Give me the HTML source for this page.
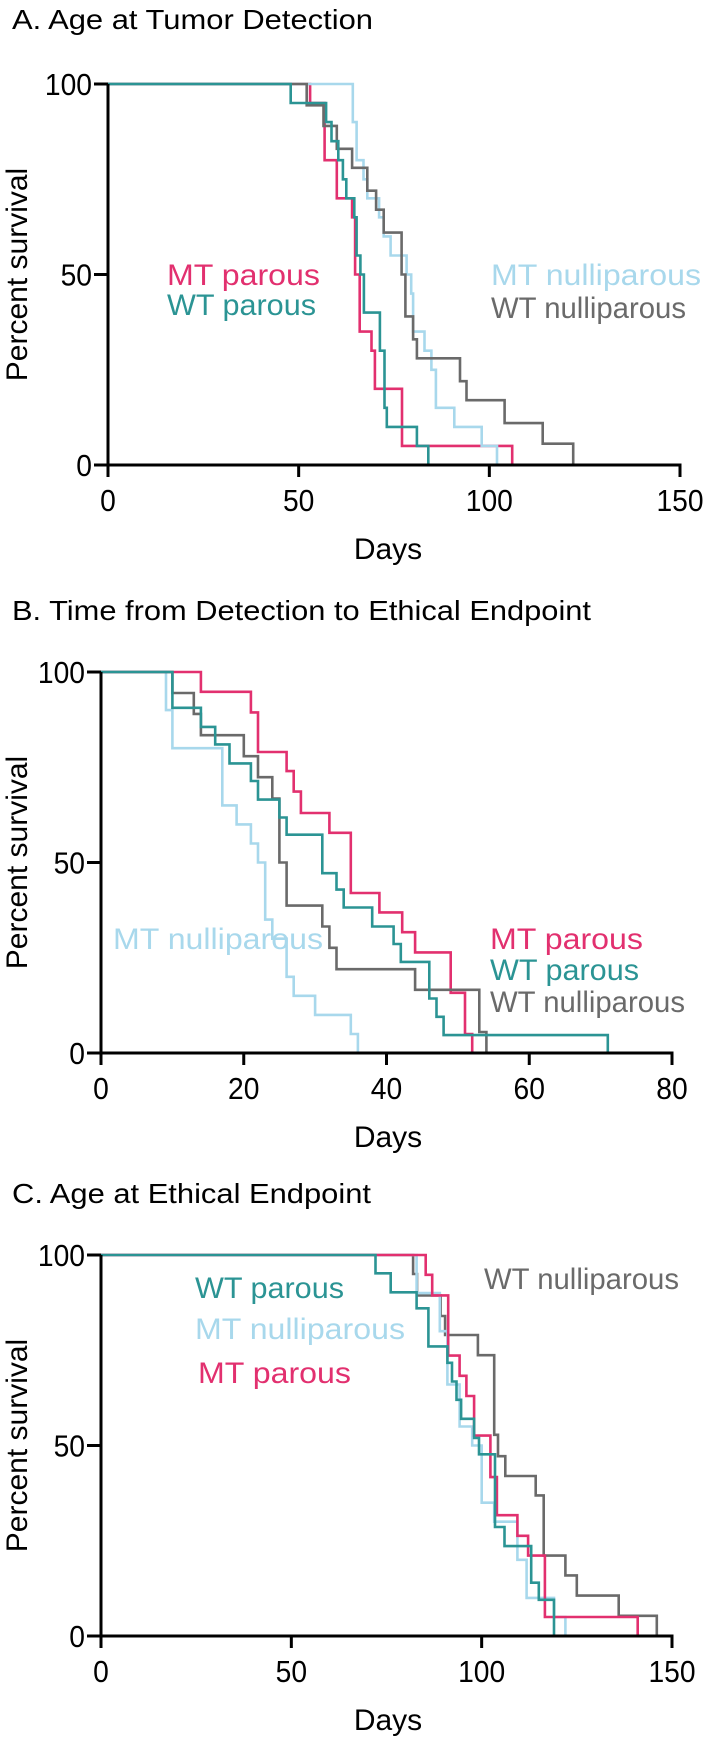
<!DOCTYPE html>
<html><head><meta charset="utf-8"><style>
html,body{margin:0;padding:0;background:#fff;}
svg{display:block;font-family:"Liberation Sans",Arial,sans-serif;}
</style></head><body>
<svg id="root" width="712" height="1740" viewBox="0 0 712 1740"></svg>
<script>
// ---- Chart A data: Age at Tumor Detection ----
const aTicksX = [0, 50, 100, 150];
const aTicksY = [0, 50, 100];
const aMTparT = [53, 56.8, 60, 64, 64.8, 66, 69.1, 70, 77.1, 106];
const aMTparS = [95, 80, 70, 65, 50, 35, 30, 20, 5, 0];
const aWTparT = [47.9, 57.2, 58.6, 60.4, 61.6, 62.5, 64.6, 65.2, 66.2, 67.1, 71.3, 72.5, 73.1, 81, 84];
const aWTparS = [95, 90, 85, 80, 75, 70, 65, 55, 50, 40, 30, 15, 10, 5, 0];
const aMTnulT = [64.2, 65.2, 67, 68, 71.1, 72.3, 74.1, 78.3, 79.5, 80, 83, 84.8, 86, 90.8, 98, 102];
const aMTnulS = [90, 80, 75, 70, 65, 60, 55, 50, 45, 35, 30, 25, 15, 10, 5, 0];
const aWTnulT = [52.1, 56.5, 60, 64, 68, 70.3, 72.3, 77, 78, 80, 81, 92.3, 94, 104, 114, 122];
const aWTnulS = [94.4, 89, 83, 78, 72, 67, 61, 50, 39, 33, 28, 22, 17, 11, 5.6, 0];

// ---- Chart B data: Time from Detection to Ethical Endpoint ----
const bTicksX = [0, 20, 40, 60, 80];
const bTicksY = [0, 50, 100];
const bMTnulT = [9.1, 10, 17, 19, 21, 22, 23, 24, 26, 27, 30, 35, 36];
const bMTnulS = [90, 80, 65, 60, 55, 50, 35, 30, 20, 15, 10, 5, 0];
const bMTparT = [14, 21, 22, 26, 27, 28, 32, 35, 39, 42.2, 44, 49, 51, 52];
const bMTparS = [94.8, 89.4, 79, 74, 68.6, 63, 57.8, 42, 36.9, 31.7, 26.4, 15.8, 5, 0];
const bWTparT = [10, 14, 16, 18, 21, 22, 25, 26, 31, 33, 34, 38, 41, 42, 46, 47, 48, 71];
const bWTparS = [90.6, 85.6, 81, 76, 71.4, 66.5, 61.8, 57.3, 47.2, 42.9, 38.2, 33.2, 28.6, 23.9, 14.3, 9.5, 4.7, 0];
const bWTnulT = [10, 13, 14, 20, 22, 24, 25, 26, 31, 32, 33, 44, 53, 54];
const bWTnulS = [94.5, 89, 83.4, 77.9, 72.4, 66.8, 50, 38.7, 33.2, 27.6, 22, 16.6, 5.5, 0];

// ---- Chart C data: Age at Ethical Endpoint ----
const cTicksX = [0, 50, 100, 150];
const cTicksY = [0, 50, 100];
const cWTparT = [72.1, 76.1, 82.9, 86, 91, 92.2, 93.4, 94.6, 98, 99.3, 103.5, 106, 113, 115, 119];
const cWTparS = [95.2, 90.2, 86, 76, 71.7, 66.8, 62, 57, 52, 47.7, 28.6, 23.6, 14, 9.5, 0];
const cMTnulT = [82.9, 89, 91, 94.2, 97.5, 100, 103.3, 109.4, 111.8, 119, 122];
const cMTnulS = [90, 80, 66, 55, 50, 35, 30, 20, 10, 5, 0];
const cMTparT = [85.3, 87, 91.2, 94.2, 96, 98, 102.3, 104, 109.4, 112.2, 116.6, 141];
const cMTparS = [94.8, 89.4, 73.6, 68.3, 63, 52.6, 41.7, 31.7, 26.3, 21.1, 5, 0];
const cWTnulT = [82, 83, 89.2, 90.4, 99, 103.3, 104.3, 106.2, 114.2, 116.3, 122, 125, 136, 146];
const cWTnulS = [95, 89.4, 84, 79, 73.7, 52.8, 47.2, 42, 36.9, 21.1, 15.9, 10.6, 5.3, 0];

const PINK = "#e2306f", TEAL = "#2b9494", LBLUE = "#a8d8ec", GRAY = "#6a6a6a";
const NS = "http://www.w3.org/2000/svg";
const root = document.getElementById('root');

function mk(tag, attrs, parent) {
  const e = document.createElementNS(NS, tag);
  for (const k in attrs) e.setAttribute(k, attrs[k]);
  (parent || root).appendChild(e);
  return e;
}

function drawChart(cfg) {
  const g = mk('g', {});
  
  
  const sx = d => cfg.x0 + (d - cfg.xmin) / (cfg.xmax - cfg.xmin) * (cfg.x1 - cfg.x0);
  const sy = p => cfg.y0 + (100 - p) / 100 * (cfg.yb - cfg.y0);

  const title = mk('text', {x: 12, y: cfg.titleY, 'font-size': 28, fill: '#000', textLength: cfg.titleW, lengthAdjust: 'spacingAndGlyphs'}, g);
  title.textContent = cfg.title;
  
  

  cfg.series.forEach(s => {
    let d = 'M' + sx(cfg.xmin) + ' ' + sy(100);
    for (let i = 0; i < s.t.length; i++) {
      d += ' H' + sx(s.t[i]).toFixed(1) + ' V' + sy(s.s[i]).toFixed(1);
    }
    const p = mk('path', {d: d, fill: 'none', stroke: s.color, 'stroke-width': 2.6}, g);
    
    
  });

  const ya = mk('line', {x1: sx(cfg.xmin), x2: sx(cfg.xmin), y1: sy(100), y2: sy(0), stroke: '#000', 'stroke-width': 3}, g);
  
  
  const xa = mk('line', {x1: sx(cfg.xmin) - 1.5, x2: sx(cfg.xmax) + 1.5, y1: sy(0), y2: sy(0), stroke: '#000', 'stroke-width': 3}, g);
  
  

  cfg.ticksY.forEach(v => {
    mk('line', {x1: sx(cfg.xmin) - 14, x2: sx(cfg.xmin), y1: sy(v), y2: sy(v), stroke: '#000', 'stroke-width': 3}, g);
    const txt = String(v);
    const t = mk('text', {x: sx(cfg.xmin) - 16, y: sy(v) + 11, 'font-size': 31, 'text-anchor': 'end', fill: '#000', textLength: 15.7 * txt.length, lengthAdjust: 'spacingAndGlyphs'}, g);
    t.textContent = txt;
    
    
  });
  cfg.ticksX.forEach(v => {
    mk('line', {x1: sx(v), x2: sx(v), y1: sy(0), y2: sy(0) + 12, stroke: '#000', 'stroke-width': 3}, g);
    const txt = String(v);
    const t = mk('text', {x: sx(v), y: sy(0) + 46, 'font-size': 31, 'text-anchor': 'middle', fill: '#000', textLength: 15.7 * txt.length, lengthAdjust: 'spacingAndGlyphs'}, g);
    t.textContent = txt;
    
    
  });

  const yl = mk('text', {x: 0, y: 0, 'font-size': 30, 'text-anchor': 'middle', fill: '#000',
    transform: 'translate(27,' + ((sy(0) + sy(100)) / 2) + ') rotate(-90)'}, g);
  yl.textContent = 'Percent survival';
  
  
  const xl = mk('text', {x: 388, y: cfg.daysY, 'font-size': 30, 'text-anchor': 'middle', fill: '#000'}, g);
  xl.textContent = 'Days';
  
  

  cfg.labels.forEach(l => {
    const t = mk('text', {x: l.x, y: l.y, 'font-size': 30, fill: l.color, textLength: l.w, lengthAdjust: 'spacingAndGlyphs'}, g);
    t.textContent = l.text;
    
    
  });
}

drawChart({
  name: 'chart-a-tumor-detection', title: 'A. Age at Tumor Detection', titleY: 29, titleW: 361,
  x0: 108, x1: 680, xmin: 0, xmax: 150, y0: 84, yb: 465, daysY: 559,
  ticksX: aTicksX, ticksY: aTicksY,
  series: [
    {name: 'mt-parous', t: aMTparT, s: aMTparS, color: PINK},
    {name: 'mt-nulliparous', t: aMTnulT, s: aMTnulS, color: LBLUE},
    {name: 'wt-nulliparous', t: aWTnulT, s: aWTnulS, color: GRAY},
    {name: 'wt-parous', t: aWTparT, s: aWTparS, color: TEAL}
  ],
  labels: [
    {text: 'MT parous', x: 167, y: 285, w: 153, color: PINK},
    {text: 'WT parous', x: 167, y: 315, w: 149, color: TEAL},
    {text: 'MT nulliparous', x: 491, y: 285, w: 210, color: LBLUE},
    {text: 'WT nulliparous', x: 491, y: 318, w: 195, color: GRAY}
  ]
});

drawChart({
  name: 'chart-b-detection-to-endpoint', title: 'B. Time from Detection to Ethical Endpoint', titleY: 620, titleW: 579,
  x0: 101, x1: 672, xmin: 0, xmax: 80, y0: 672, yb: 1053, daysY: 1147,
  ticksX: bTicksX, ticksY: bTicksY,
  series: [
    {name: 'mt-nulliparous', t: bMTnulT, s: bMTnulS, color: LBLUE},
    {name: 'mt-parous', t: bMTparT, s: bMTparS, color: PINK},
    {name: 'wt-nulliparous', t: bWTnulT, s: bWTnulS, color: GRAY},
    {name: 'wt-parous', t: bWTparT, s: bWTparS, color: TEAL}
  ],
  labels: [
    {text: 'MT nulliparous', x: 113, y: 949, w: 210, color: LBLUE},
    {text: 'MT parous', x: 490, y: 949, w: 153, color: PINK},
    {text: 'WT parous', x: 490, y: 980, w: 149, color: TEAL},
    {text: 'WT nulliparous', x: 490, y: 1012, w: 195, color: GRAY}
  ]
});

drawChart({
  name: 'chart-c-ethical-endpoint', title: 'C. Age at Ethical Endpoint', titleY: 1203, titleW: 359,
  x0: 101, x1: 672, xmin: 0, xmax: 150, y0: 1255, yb: 1636, daysY: 1730,
  ticksX: cTicksX, ticksY: cTicksY,
  series: [
    {name: 'wt-nulliparous', t: cWTnulT, s: cWTnulS, color: GRAY},
    {name: 'mt-nulliparous', t: cMTnulT, s: cMTnulS, color: LBLUE},
    {name: 'mt-parous', t: cMTparT, s: cMTparS, color: PINK},
    {name: 'wt-parous', t: cWTparT, s: cWTparS, color: TEAL}
  ],
  labels: [
    {text: 'WT parous', x: 195, y: 1298, w: 149, color: TEAL},
    {text: 'MT nulliparous', x: 195, y: 1339, w: 210, color: LBLUE},
    {text: 'MT parous', x: 198, y: 1383, w: 153, color: PINK},
    {text: 'WT nulliparous', x: 484, y: 1289, w: 195, color: GRAY}
  ]
});
</script>
</body></html>
